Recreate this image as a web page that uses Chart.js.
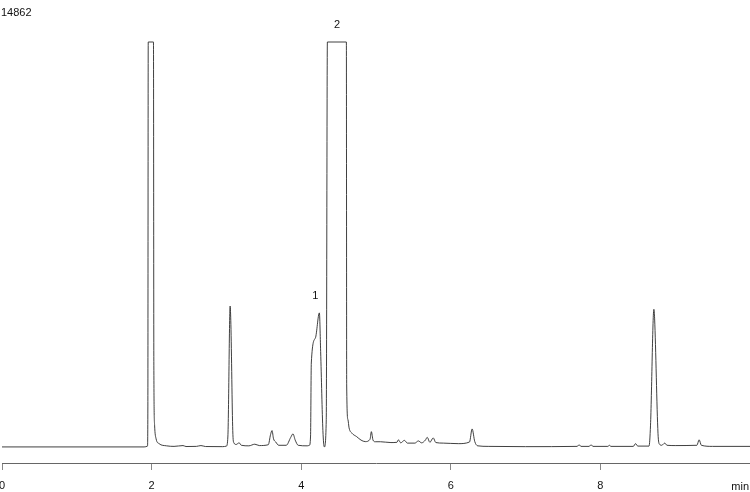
<!DOCTYPE html>
<html>
<head>
<meta charset="utf-8">
<script src="https://cdn.jsdelivr.net/npm/chart.js@4.4.1/dist/chart.umd.min.js"></script>
<style>
  html, body { margin: 0; padding: 0; background: #fff; }
  #wrap { width: 750px; height: 492px; position: relative; }
</style>
</head>
<body>
<div id="wrap"><canvas id="myChartCromatograma"></canvas></div>
<script>
var tempos = [
    0.00, 1.90, 1.945, 1.950, 1.955, 2.025, 2.030, 2.040, 2.060, 2.100,
    2.200, 2.300, 2.420, 2.460, 2.600, 2.660, 2.720, 2.950, 3.000, 3.020,
    3.050, 3.060, 3.085, 3.100, 3.130, 3.170, 3.200, 3.300, 3.380, 3.440,
    3.560, 3.590, 3.610, 3.630, 3.660, 3.700, 3.800, 3.860, 3.890, 3.920,
    3.960, 4.080, 4.110, 4.125, 4.135, 4.190, 4.243, 4.260, 4.290, 4.310,
    4.335, 4.350, 4.604, 4.608, 4.625, 4.640, 4.680, 4.740, 4.800, 4.857,
    4.920, 4.938, 4.960, 4.990, 5.060, 5.200, 5.280, 5.300, 5.330, 5.380,
    5.420, 5.520, 5.566, 5.610, 5.660, 5.685, 5.720, 5.765, 5.800, 5.900,
    6.100, 6.250, 6.285, 6.320, 6.360, 6.500, 7.000, 7.690, 7.715, 7.740,
    7.850, 7.875, 7.900, 8.100, 8.120, 8.140, 8.440, 8.470, 8.500, 8.650,
    8.670, 8.715, 8.725, 8.770, 8.790, 8.820, 8.860, 8.890, 9.000, 9.290,
    9.320, 9.350, 9.500, 10.00
];
var sinal = [
    0, 0, 30, 1500, 14862, 14862, 3000, 800, 300, 120,
    40, 20, 50, 15, 20, 50, 15, 10, 30, 400,
    5170, 4500, 600, 150, 90, 150, 60, 40, 100, 50,
    80, 450, 600, 300, 180, 60, 60, 350, 480, 250,
    60, 40, 60, 400, 3080, 4000, 4920, 3500, 600, 0,
    1000, 14862, 14862, 2275, 1000, 700, 500, 380, 250, 195,
    280, 560, 250, 190, 190, 160, 170, 260, 150, 240,
    140, 140, 220, 150, 250, 350, 170, 330, 160, 140,
    120, 180, 660, 200, 40, 20, 10, 20, 80, 20,
    20, 80, 20, 20, 60, 20, 20, 120, 30, 30,
    800, 5050, 4700, 500, 100, 60, 140, 60, 50, 60,
    260, 60, 20, 20
];

var yMax = 14862;
var yMin = -590;
var xTicks = [0, 2, 4, 6, 8];
var unidade = 'min';

// picos identificados
var picosNomes = ['1', '2'];
var picosTempos = [4.19, 4.48];
var picosAlturas = [4920, 14862];

var pontos = tempos.map(function (t, i) { return { x: t, y: sinal[i] }; });

const textos = {
    id: 'textos',
    afterDraw(chart) {
        const ctx = chart.ctx;
        const x = chart.scales.x;
        const y = chart.scales.y;
        ctx.save();
        ctx.font = '11px "Liberation Sans", Arial, sans-serif';
        ctx.fillStyle = '#111';
        ctx.textBaseline = 'middle';
        ctx.textAlign = 'left';
        ctx.fillText(String(yMax), 1, 13);
        ctx.textAlign = 'right';
        ctx.fillText(unidade, 749, chart.chartArea.bottom + 24);
        ctx.textAlign = 'center';
        for (var i = 0; i < picosNomes.length; i++) {
            ctx.fillText(picosNomes[i], x.getPixelForValue(picosTempos[i]), y.getPixelForValue(picosAlturas[i]) - 17);
        }
        ctx.restore();
    }
};

const ctxCromatograma = document.getElementById('myChartCromatograma');

var myChartCromatograma = new Chart(ctxCromatograma, {
    type: 'line',
    data: {
        datasets: [{
            data: pontos,
            borderColor: '#2a2a2a',
            borderWidth: 0.9,
            pointRadius: 0,
            fill: false,
            cubicInterpolationMode: 'monotone',
            clip: false
        }]
    },
    options: {
        responsive: true,
        maintainAspectRatio: false,
        animation: false,
        layout: {
            padding: { top: 42, left: 2, right: 0, bottom: 0 }
        },
        scales: {
            x: {
                type: 'linear',
                min: 0,
                max: 10,
                afterBuildTicks: function (scale) {
                    scale.ticks = xTicks.map(function (v) { return { value: v }; });
                },
                afterFit: function (scale) {
                    scale.paddingLeft = 0;
                    scale.paddingRight = 0;
                    scale.height = 29;
                },
                ticks: {
                    color: '#111',
                    padding: 9,
                    maxRotation: 0,
                    font: { family: '"Liberation Sans", Arial, sans-serif', size: 11 }
                },
                grid: {
                    drawOnChartArea: false,
                    drawTicks: true,
                    tickLength: 7,
                    color: '#888'
                },
                border: {
                    color: '#666',
                    width: 1
                }
            },
            y: {
                display: false,
                min: yMin,
                max: yMax
            }
        },
        plugins: {
            legend: { display: false },
            tooltip: { enabled: false }
        }
    },
    plugins: [textos]
});
</script>
</body>
</html>
